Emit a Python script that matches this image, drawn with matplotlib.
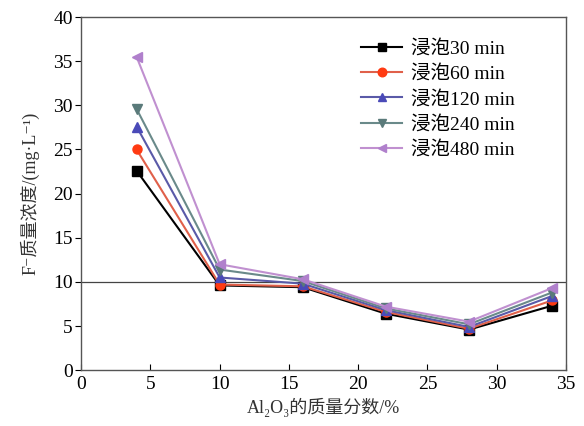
import numpy as np
import matplotlib
matplotlib.use("Agg")
import matplotlib.pyplot as plt

# data
al2o3 = [4, 10, 16, 22, 28, 34]
c30 = [22.6, 9.6, 9.4, 6.4, 4.6, 7.3]
c60 = [25.0, 9.7, 9.5, 6.6, 4.7, 7.9]
c120 = [27.6, 10.5, 9.8, 6.8, 4.9, 8.4]
c240 = [29.6, 11.4, 10.1, 7.0, 5.2, 8.8]
c480 = [35.5, 12.0, 10.3, 7.2, 5.5, 9.3]
series_labels = ["浸泡30 min", "浸泡60 min", "浸泡120 min", "浸泡240 min", "浸泡480 min"]
xticks = [0, 5, 10, 15, 20, 25, 30, 35]
yticks = [0, 5, 10, 15, 20, 25, 30, 35, 40]
limit = 10

plt.rcParams['font.family'] = ['Liberation Serif', 'Noto Sans CJK SC', 'DejaVu Serif']

fig = plt.figure(figsize=(5.84, 4.26), dpi=100)
ax = fig.add_axes([0.139, 0.131, 0.830, 0.829])

styles = [
    ('#000000', '#000000', 's'),
    ('#e0604a', '#ff3a12', 'o'),
    ('#5a5aa8', '#4a4ab8', '^'),
    ('#6a8a8a', '#5a7a7a', 'v'),
    ('#c090d0', '#b080cc', '<'),
]
for vals, lab, (lc, mc, mk) in zip([c30, c60, c120, c240, c480], series_labels, styles):
    ax.plot(al2o3, vals, color=lc, lw=1.5, marker=mk, markersize=6.5,
            markerfacecolor=mc, markeredgecolor=mc, label=lab)

ax.axhline(limit, color='#444444', lw=0.9, zorder=0)

ax.set_xlim(0, 35)
ax.set_ylim(0, 40)
ax.set_xticks(xticks)
ax.set_yticks(yticks)
ax.tick_params(axis='x', direction='in', length=4, labelsize=14, pad=4)
ax.tick_params(axis='y', direction='out', length=4, labelsize=14, pad=2)
for s in ax.spines.values():
    s.set_color('#555555')
    s.set_linewidth(1.0)

ax.set_xlabel('Al₂O₃的质量分数/%', fontsize=13, color='#333333', labelpad=4)
ax.set_ylabel('F⁻质量浓度/(mg·L⁻¹)', fontsize=13, color='#333333', labelpad=10)

leg = ax.legend(loc='upper right', bbox_to_anchor=(0.93, 0.985), frameon=False,
                fontsize=14, handlelength=2.1, handletextpad=0.45, labelspacing=0.38,
                markerscale=0.95)

fig.savefig('out.png', dpi=100)
